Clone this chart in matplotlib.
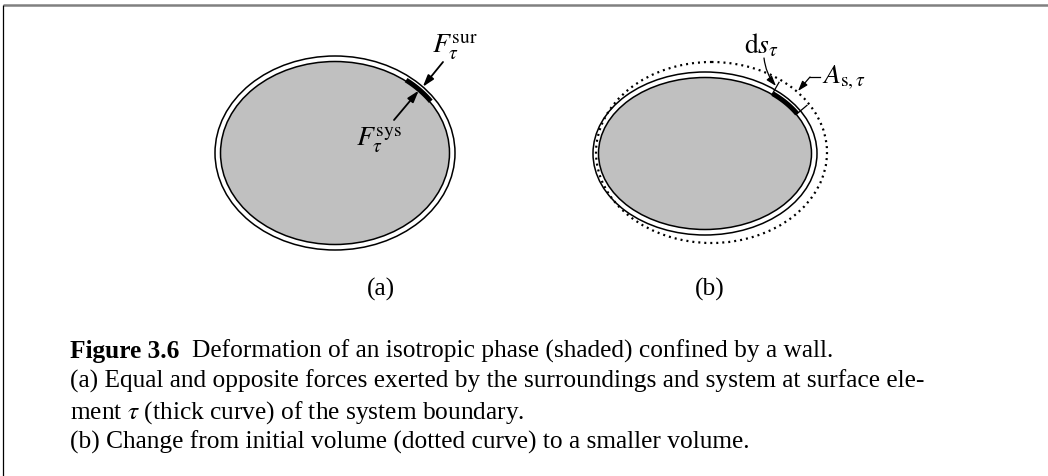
import numpy as np
import matplotlib
matplotlib.use("Agg")
import matplotlib.pyplot as plt
from matplotlib.patches import Ellipse

plt.rcParams['mathtext.fontset'] = 'stix'
plt.rcParams['font.family'] = ['Liberation Serif', 'DejaVu Serif']

# ---- text content ----
panel_labels = ["(a)", "(b)"]
force_labels = [r"$F_\tau^{\rm sur}$", r"$F_\tau^{\rm sys}$"]
b_labels = [r"${\rm d}s_\tau$", r"$A_{{\rm s},\tau}$"]
caption_head = "Figure 3.6"
caption_lines = [
    "Deformation of an isotropic phase (shaded) confined by a wall.",
    "(a) Equal and opposite forces exerted by the surroundings and system at surface ele-",
    r"ment $\tau$ (thick curve) of the system boundary.",
    "(b) Change from initial volume (dotted curve) to a smaller volume.",
]

W, H = 1048, 476
fig = plt.figure(figsize=(W / 100, H / 100), dpi=100)
ax = fig.add_axes([0, 0, 1, 1])
ax.set_xlim(0, W)
ax.set_ylim(H, 0)
ax.axis('off')

# frame
ax.plot([3, W], [5, 5], color='#808080', lw=1.8, solid_capstyle='butt')
ax.plot([3, 3], [5, H], color='black', lw=0.9, solid_capstyle='butt')

GRAY = '#c0c0c0'
LBL = 20
CAP = 18.3


def ell_pt(c, a, b, t_deg):
    t = np.radians(t_deg)
    return c[0] + a * np.cos(t), c[1] - b * np.sin(t)


def ell_normal(a, b, t_deg):
    t = np.radians(t_deg)
    nx, ny = np.cos(t) / a, -np.sin(t) / b
    n = np.hypot(nx, ny)
    return nx / n, ny / n


# ---- panel (a) ----
ca = (335, 153)
ao, bo = 120, 97
ai, bi = 114.5, 91.5
ax.add_patch(Ellipse(ca, 2 * ao, 2 * bo, fc='white', ec='black', lw=1.1))
ax.add_patch(Ellipse(ca, 2 * ai, 2 * bi, fc=GRAY, ec='black', lw=1.1))
ts = np.linspace(34, 52, 40)
xs, ys = ell_pt(ca, ai + 1, bi + 1, ts)
ax.plot(xs, ys, color='black', lw=3.6, solid_capstyle='butt')

tip_out = ell_pt(ca, ao, bo, 43)
tip_in = ell_pt(ca, ai, bi, 43)
arr = dict(arrowstyle='-|>,head_length=0.7,head_width=0.22', lw=1.3, color='black',
           shrinkA=0, shrinkB=0)
ax.annotate('', xy=tip_out, xytext=(443, 62), arrowprops=arr)
ax.annotate('', xy=tip_in, xytext=(394, 120), arrowprops=arr)
ax.text(432, 53, force_labels[0], fontsize=LBL, ha='left', va='baseline')
ax.text(356, 146, force_labels[1], fontsize=LBL, ha='left', va='baseline')

# ---- panel (b) ----
cb = (705, 153.5)
bo_a, bo_b = 112, 81.5
bi_a, bi_b = 106.5, 76
cd = (711.5, 152.5)
da, db = 115.5, 90.5
ax.add_patch(Ellipse(cb, 2 * bo_a, 2 * bo_b, fc='white', ec='black', lw=1.1))
ax.add_patch(Ellipse(cb, 2 * bi_a, 2 * bi_b, fc=GRAY, ec='black', lw=1.1))
ax.add_patch(Ellipse(cd, 2 * da, 2 * db, fc='none', ec='black', lw=1.6,
                     ls=(0, (0.9, 1.8))))
ts = np.linspace(31, 51, 40)
xs, ys = ell_pt(cb, bi_a + 1, bi_b + 1, ts)
ax.plot(xs, ys, color='black', lw=3.6, solid_capstyle='butt')
for t in (31, 51):
    p = ell_pt(cb, bi_a, bi_b, t)
    nx, ny = ell_normal(bi_a, bi_b, t)
    ax.plot([p[0], p[0] + nx * 14], [p[1], p[1] + ny * 14], color='black', lw=0.9)

arr2 = dict(arrowstyle='-|>,head_length=0.6,head_width=0.2', lw=0.9, color='black',
            shrinkA=0, shrinkB=0, connectionstyle='arc3,rad=0.15')
ax.annotate('', xy=(776, 86), xytext=(764, 58), arrowprops=arr2)
ax.plot([820, 810], [77, 77], color='black', lw=0.9)
arr3 = dict(arrowstyle='-|>,head_length=0.6,head_width=0.2', lw=0.9, color='black',
            shrinkA=0, shrinkB=0)
ax.annotate('', xy=(798, 91), xytext=(810, 77), arrowprops=arr3)
ax.text(744, 53, b_labels[0], fontsize=LBL, ha='left', va='baseline')
ax.text(822, 84, b_labels[1], fontsize=LBL, ha='left', va='baseline')

# panel labels
ax.text(381, 296, panel_labels[0], fontsize=CAP, ha='center', va='baseline')
ax.text(710, 296, panel_labels[1], fontsize=CAP, ha='center', va='baseline')

# ---- caption ----
x0 = 70
ys_cap = [358, 388, 419, 449]
th = ax.text(x0, ys_cap[0], caption_head, fontsize=CAP, fontweight='bold',
             ha='left', va='baseline')
ax.annotate(caption_lines[0], xy=(1, 0), xycoords=th, xytext=(9, 0),
            textcoords='offset points', fontsize=CAP, ha='left', va='bottom')
for y, s in zip(ys_cap[1:], caption_lines[1:]):
    ax.text(x0, y, s, fontsize=CAP, ha='left', va='baseline')

fig.savefig('out.png', dpi=100)
